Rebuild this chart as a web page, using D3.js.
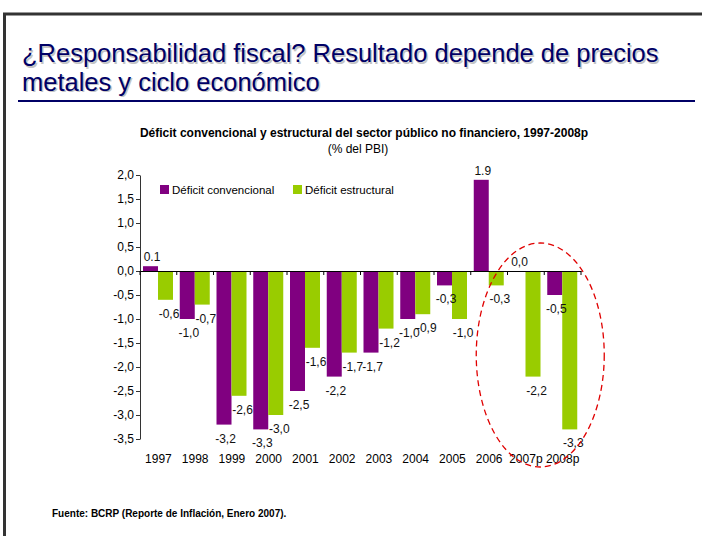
<!DOCTYPE html>
<html>
<head>
<meta charset="utf-8">
<script src="https://cdn.jsdelivr.net/npm/d3@7"></script>
<style>
  body { margin: 0; background: #fff; }
  text { font-family: "Liberation Sans", Arial, sans-serif; }
</style>
</head>
<body>
<svg width="702" height="536"></svg>
<script>
// datos del grafico
const years = ["1997", "1998", "1999", "2000", "2001", "2002", "2003", "2004", "2005", "2006", "2007p", "2008p"];
const convencional = [0.1, -1.0, -3.2, -3.3, -2.5, -2.2, -1.7, -1.0, -0.3, 1.9, 0.0, -0.5];
const estructural = [-0.6, -0.7, -2.6, -3.0, -1.6, -1.7, -1.2, -0.9, -1.0, -0.3, -2.2, -3.3];
const convLabels = ["0.1", "-1,0", "-3,2", "-3,3", "-2,5", "-2,2", "-1,7", "-1,0", "-0,3", "1.9", "0,0", "-0,5"];
const estLabels = ["-0,6", "-0,7", "-2,6", "-3,0", "-1,6", "-1,7", "-1,2", "-0,9", "-1,0", "-0,3", "-2,2", "-3,3"];
const yTicks = [2.0, 1.5, 1.0, 0.5, 0.0, -0.5, -1.0, -1.5, -2.0, -2.5, -3.0, -3.5];
const seriesNames = ["Déficit convencional", "Déficit estructural"];
const colors = ["#800080", "#99cc00"];

const svg = d3.select("svg");
const locale = d3.formatLocale({decimal: ",", thousands: ".", grouping: [3], currency: ["", ""], minus: "-"});
const fmt = locale.format(".1f");

// marco de la diapositiva
svg.append("line").attr("x1", 3).attr("x2", 702).attr("y1", 14).attr("y2", 14)
  .attr("stroke", "#333").attr("stroke-width", 3);
svg.append("line").attr("x1", 4.5).attr("x2", 4.5).attr("y1", 13).attr("y2", 536)
  .attr("stroke", "#333").attr("stroke-width", 3);

// titulo con sombra
const titleLines = ["¿Responsabilidad fiscal? Resultado depende de precios", "metales y ciclo económico"];
titleLines.forEach((t, i) => {
  svg.append("text").attr("x", 23.5).attr("y", 63.5 + i * 28.5)
    .attr("font-size", 25.5).attr("fill", "#c4c4c4").text(t);
  svg.append("text").attr("x", 22).attr("y", 62 + i * 28.5)
    .attr("font-size", 25.5).attr("fill", "#000066").text(t);
});
svg.append("line").attr("x1", 18).attr("x2", 695).attr("y1", 101).attr("y2", 101)
  .attr("stroke", "#000066").attr("stroke-width", 2);

// titulo del grafico
svg.append("text").attr("x", 364).attr("y", 137).attr("text-anchor", "middle")
  .attr("font-size", 12).attr("font-weight", "bold")
  .text("Déficit convencional y estructural del sector público no financiero, 1997-2008p");
svg.append("text").attr("x", 358).attr("y", 152.5).attr("text-anchor", "middle")
  .attr("font-size", 12).text("(% del PBI)");

const x = d3.scaleBand().domain(years).range([140, 581]);
const x1 = d3.scaleBand().domain([0, 1]).range([3, 33]);
const y = d3.scaleLinear().domain([-3.5, 2]).range([439, 175]);

// eje y
const yAxis = svg.append("g").attr("transform", "translate(140,0)")
  .call(d3.axisLeft(y).tickValues(yTicks).tickSize(4).tickSizeOuter(0).tickPadding(2).tickFormat(fmt));
yAxis.selectAll("text").attr("font-size", 12).attr("font-family", "Liberation Sans, Arial, sans-serif").attr("fill", "#000");
yAxis.selectAll("line, path").attr("stroke", "#333");

// barras
const rows = years.map((yr, i) => ({year: yr, vals: [convencional[i], estructural[i]], labs: [convLabels[i], estLabels[i]]}));
const groups = svg.append("g").selectAll("g").data(rows).join("g")
  .attr("transform", d => `translate(${x(d.year)},0)`);
groups.selectAll("rect").data(d => d.vals.map((v, k) => ({v, k}))).join("rect")
  .attr("x", d => x1(d.k))
  .attr("width", x1.bandwidth())
  .attr("y", d => y(Math.max(0, d.v)))
  .attr("height", d => Math.abs(y(d.v) - y(0)))
  .attr("fill", d => colors[d.k]);
groups.selectAll("text").data(d => d.labs.map((l, k) => ({l, k, v: d.vals[k]}))).join("text")
  .attr("x", d => x1(d.k) + x1.bandwidth() / 2 + (d.k === 0 ? 1.5 : 3.5))
  .attr("y", d => d.v >= 0 ? y(d.v) - 5 : y(d.v) + 18)
  .attr("text-anchor", "middle").attr("font-size", 12).attr("fill", "#111")
  .text(d => d.l);

// eje x en cero
const y0 = y(0);
svg.append("g").attr("transform", `translate(0,${y0})`)
  .call(d3.axisBottom(x).tickSize(0).tickFormat(""))
  .selectAll("path").attr("stroke", "#000");
svg.append("g").selectAll("line").data(years.map(d => x(d)).concat([x.range()[1]])).join("line")
  .attr("x1", d => d).attr("x2", d => d).attr("y1", y0).attr("y2", y0 + 4)
  .attr("stroke", "#000");

// etiquetas de años
const xLab = svg.append("g").attr("transform", "translate(0,452)")
  .call(d3.axisBottom(x).tickSize(0).tickPadding(0));
xLab.select(".domain").remove();
xLab.selectAll("text").attr("font-size", 12).attr("font-family", "Liberation Sans, Arial, sans-serif")
  .attr("fill", "#000").attr("dy", "0.9em");

// leyenda
const leg = svg.append("g").selectAll("g").data(seriesNames).join("g")
  .attr("transform", (d, i) => `translate(${160 + i * 133},185)`);
leg.append("rect").attr("width", 9).attr("height", 9).attr("fill", (d, i) => colors[i]);
leg.append("text").attr("x", 12).attr("y", 9).attr("font-size", 11.5).text(d => d);

// elipse roja punteada
const cx = (x("2007p") + x("2008p") + x.bandwidth()) / 2 - 4;
svg.append("ellipse").attr("cx", cx).attr("cy", y(-1.75))
  .attr("rx", 64).attr("ry", 112)
  .attr("fill", "none").attr("stroke", "#e00000").attr("stroke-width", 1.3)
  .attr("stroke-dasharray", "6,4");

// fuente
svg.append("text").attr("x", 52).attr("y", 517).attr("font-size", 10).attr("font-weight", "bold")
  .text("Fuente: BCRP (Reporte de Inflación, Enero 2007).");
</script>
</body>
</html>
